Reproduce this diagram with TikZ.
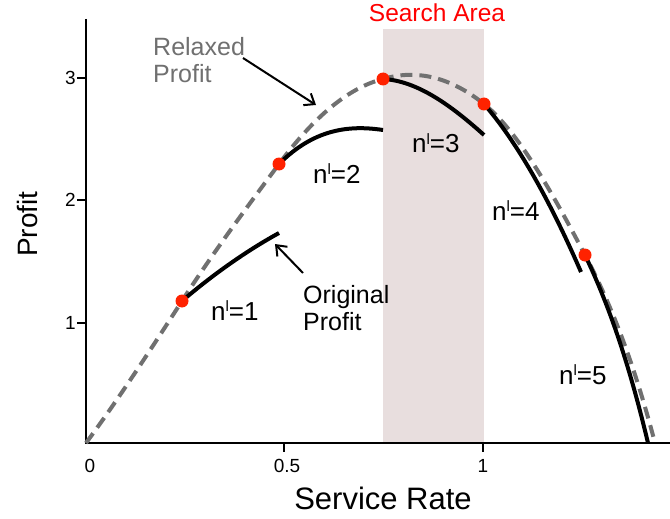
\documentclass[tikz,border=0pt]{standalone}
\usepackage{fontspec}
\setmainfont{Liberation Sans}
\usetikzlibrary{arrows.meta}
\definecolor{relgray}{RGB}{112,112,112}
\definecolor{dotred}{RGB}{255,34,0}
\definecolor{areacol}{RGB}{232,222,222}
\newcommand{\nl}[1]{n\raisebox{8.5pt}{\fontsize{15}{15}\selectfont l}=#1}
\begin{document}
\begin{tikzpicture}[x=1pt,y=-1pt,
  axis/.style={line width=2.5pt},
  relaxed/.style={relgray, line width=4pt, dash pattern=on 12pt off 7pt},
  orig/.style={black, line width=4pt},
  dot/.style={circle, fill=dotred, inner sep=0pt, minimum size=13pt},
  ticklab/.style={inner sep=0pt, font=\fontsize{19}{19}\selectfont},
  nlab/.style={anchor=base west, inner sep=0pt, font=\fontsize{26}{26}\selectfont},
  callout/.style={line width=2pt, -{Straight Barb[length=9pt,width=14pt]}},
  txt/.style={anchor=base west, inner sep=0pt, align=left, font=\fontsize{25}{27}\selectfont},
]
\useasboundingbox[fill=white] (0,0) rectangle (670,519);
% search area
\fill[areacol] (383,29) rectangle (484,443);
\node[inner sep=0pt, text=red, font=\fontsize{24.5}{24.5}\selectfont] (search) at (437,13) {Search Area};
% axes
\coordinate (o) at (86,443);
\coordinate (ytop) at (86,19);
\coordinate (xend) at (670,443);
\draw[axis] (ytop) -- (86,444.2);
\draw[axis] (84.8,443) -- (xend);
% y ticks
\foreach \v/\yy in {3/78,2/200,1/323}{
  \draw[axis] (77,\yy) -- (86,\yy);
  \node[ticklab, anchor=east] (yl\v) at (76,\yy) {\v};
}
% x ticks
\foreach \xx in {284,483}{
  \draw[axis] (\xx,443) -- (\xx,452);
}
\node[ticklab] (xl0) at (90,466) {0};
\node[ticklab] (xl5) at (287,466) {0.5};
\node[ticklab] (xl10) at (483,466) {1};
% axis titles
\node[inner sep=0pt, font=\fontsize{31}{31}\selectfont] (xtitle) at (383,498) {Service Rate};
\node[inner sep=0pt, rotate=90, font=\fontsize{28}{28}\selectfont] (ytitle) at (27,224) {Profit};
% key points
\coordinate (p1) at (182,301);
\coordinate (p2) at (279,164);
\coordinate (p3) at (383,79);
\coordinate (p4) at (484,104);
\coordinate (p5) at (585,255);
\coordinate (xzero) at (655,443);
% relaxed profit (dashed)
\draw[relaxed] (o) .. controls (118,399.8) and (150,350.6) .. (p1)
  .. controls (214.3,250.9) and (246.7,207.6) .. (p2)
  .. controls (313.7,117.2) and (348.3,87.7) .. (p3)
  .. controls (416.7,68.9) and (450.3,77) .. (p4)
  .. controls (517.7,131) and (551.3,191) .. (p5)
  .. controls (608.3,299.3) and (631.7,354.5) .. (xzero);
% original profit segments
\coordinate (e1) at (279,233);
\coordinate (e2) at (383,130);
\coordinate (e3) at (484,135);
\coordinate (e4) at (581,272);
\coordinate (e5) at (648,443);
\draw[orig] (p1) .. controls (214.3,273.5) and (246.7,250.8) .. (e1);
\draw[orig] (p2) .. controls (313.7,129.3) and (348.3,124.8) .. (e2);
\draw[orig] (p3) .. controls (416.7,80.7) and (450.3,104.7) .. (e3);
\draw[orig] (p4) .. controls (516.3,141.2) and (548.7,197.7) .. (e4);
\draw[orig] (p5) .. controls (606,299.1) and (627,354.8) .. (e5);
% dots
\foreach \i in {1,...,5}{ \node[dot] (d\i) at (p\i) {}; }
% labels
\node[nlab] (n1) at (211,320) {\nl{1}};
\node[nlab] (n2) at (313,183) {\nl{2}};
\node[nlab] (n3) at (412,153) {\nl{3}};
\node[nlab] (n4) at (492,220) {\nl{4}};
\node[nlab] (n5) at (559,384) {\nl{5}};
% callouts
\node[txt, text=relgray] (relax) at (153,83) {Relaxed\\Profit};
\coordinate (relaxfrom) at (243,58);
\coordinate (relaxto) at (316,105);
\draw[callout] (relaxfrom) -- (relaxto);
\node[txt] (origp) at (303,330) {Original\\Profit};
\coordinate (origfrom) at (303,273);
\coordinate (origto) at (275,244);
\draw[callout] (origfrom) -- (origto);
\end{tikzpicture}
\end{document}
